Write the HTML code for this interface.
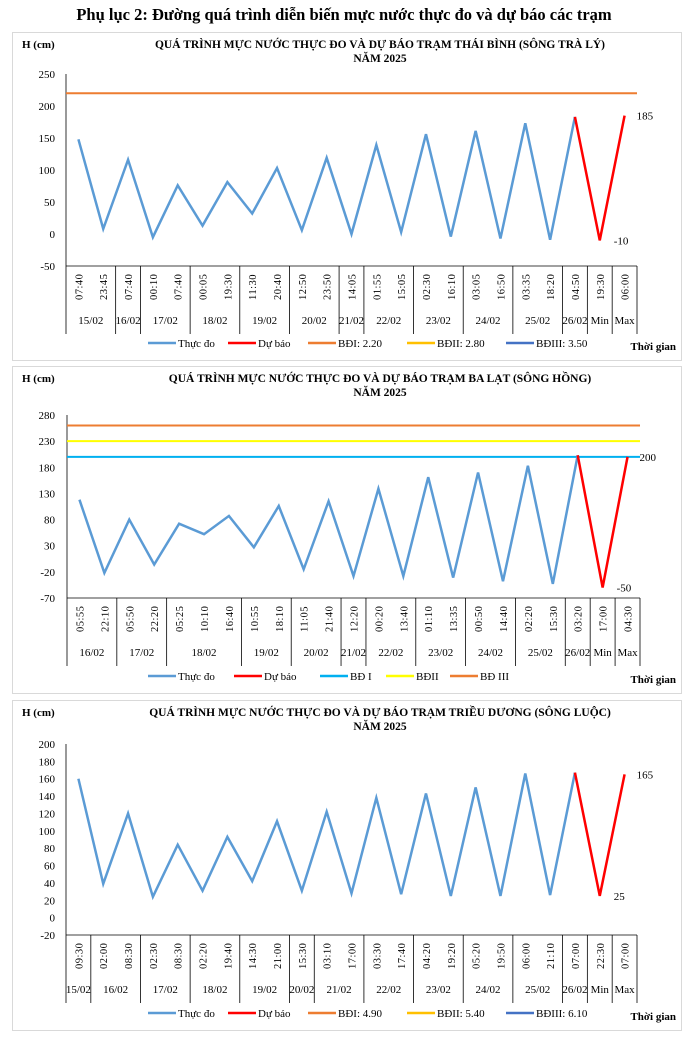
<!DOCTYPE html>
<html><head><meta charset="utf-8"><style>
body{margin:0;background:#fff;width:689px;height:1037px;overflow:hidden}
svg{display:block;font-family:"Liberation Serif",serif}
</style></head><body>
<svg id="s" width="689" height="1037" xmlns="http://www.w3.org/2000/svg">
<text x="344" y="20" text-anchor="middle" font-size="16.5" font-weight="bold">Phụ lục 2: Đường quá trình diễn biến mực nước thực đo và dự báo các trạm</text>
</svg>
<script>
const S=document.getElementById('s');let h='';
function chart(c){
 const{top,bot,py0,py1,vmax,vmin,step,x0,x1,cats,vals,groups,lines,title,legend,lbl}=c;
 h+=`<rect x="12.5" y="${top+.5}" width="669" height="${bot-top}" fill="#fff" stroke="#d9d9d9"/>`;
 h+=`<text x="22" y="${top+16}" font-size="11" font-weight="bold">H (cm)</text>`;
 h+=`<text x="380" y="${top+16}" text-anchor="middle" font-size="11.5" font-weight="bold">${title}</text>`;
 h+=`<text x="380" y="${top+30}" text-anchor="middle" font-size="11.5" font-weight="bold">NĂM 2025</text>`;
 const Y=v=>py0+(vmax-v)/(vmax-vmin)*(py1-py0);
 for(let v=vmin;v<=vmax;v+=step)h+=`<text x="55" y="${Y(v)+4}" text-anchor="end" font-size="11">${v}</text>`;
 h+=`<line x1="${x0}" y1="${py0}" x2="${x0}" y2="${py1}" stroke="#000" stroke-width=".8"/>`;
 h+=`<line x1="${x0}" y1="${py1}" x2="${x1}" y2="${py1}" stroke="#000" stroke-width=".8"/>`;
 const w=(x1-x0)/cats.length,X=i=>x0+(i+.5)*w;
 lines.forEach(l=>h+=`<line x1="${x0}" y1="${Y(l[0])}" x2="${x1}" y2="${Y(l[0])}" stroke="${l[1]}" stroke-width="2"/>`);
 cats.forEach((t,i)=>h+=`<text transform="translate(${X(i)+4},${py1+34}) rotate(-90)" font-size="10.5" letter-spacing="0.5">${t}</text>`);
 let k=0;const gy=py1+58;
 h+=`<line x1="${x0}" y1="${py1}" x2="${x0}" y2="${gy+10}" stroke="#000" stroke-width=".8"/>`;
 groups.forEach(g=>{const a=x0+k*w;k+=g[1];const b=x0+k*w;
  h+=`<line x1="${b}" y1="${py1}" x2="${b}" y2="${gy+10}" stroke="#000" stroke-width=".8"/>`;
  h+=`<text x="${(a+b)/2}" y="${gy}" text-anchor="middle" font-size="11">${g[0]}</text>`;});
 let p=vals.slice(0,21).map((v,i)=>X(i)+','+Y(v)).join(' ');
 h+=`<polyline points="${p}" fill="none" stroke="#5b9bd5" stroke-width="2.5"/>`;
 p=[20,21,22].map(i=>X(i)+','+Y(vals[i])).join(' ');
 h+=`<polyline points="${p}" fill="none" stroke="#ff0000" stroke-width="2.5"/>`;
 h+=`<text x="${X(22)+12}" y="${Y(vals[22])+4}" font-size="11">${lbl[1]}</text>`;
 h+=`<text x="${X(21)+14}" y="${Y(vals[21])+4}" font-size="11">${lbl[0]}</text>`;
 const ly=bot-17;let lx=148;
 legend.forEach(l=>{h+=`<line x1="${lx}" y1="${ly}" x2="${lx+28}" y2="${ly}" stroke="${l[1]}" stroke-width="2.5"/><text x="${lx+30}" y="${ly+4}" font-size="11">${l[0]}</text>`;lx+=l[2];});
 h+=`<text x="676" y="${bot-10}" text-anchor="end" font-size="11" font-weight="bold">Thời gian</text>`;
}
chart({top:32,bot:360,py0:74,py1:266,vmax:250,vmin:-50,step:50,x0:66,x1:637,
 title:"QUÁ TRÌNH MỰC NƯỚC THỰC ĐO VÀ DỰ BÁO TRẠM THÁI BÌNH (SÔNG TRÀ LÝ)",
 cats:"07:40 23:45 07:40 00:10 07:40 00:05 19:30 11:30 20:40 12:50 23:50 14:05 01:55 15:05 02:30 16:10 03:05 16:50 03:35 18:20 04:50 19:30 06:00".split(' '),
 vals:[148,8,116,-5,76,13,81,32,103,6,119,0,139,3,156,-4,161,-7,173,-9,183,-10,185],
 groups:[["15/02",2],["16/02",1],["17/02",2],["18/02",2],["19/02",2],["20/02",2],["21/02",1],["22/02",2],["23/02",2],["24/02",2],["25/02",2],["26/02",1],["Min",1],["Max",1]],
 lines:[[220,"#ed7d31"]],lbl:["-10","185"],
 legend:[["Thực đo","#5b9bd5",80],["Dự báo","#ff0000",80],["BĐI: 2.20","#ed7d31",99],["BĐII: 2.80","#ffc000",99],["BĐIII: 3.50","#4472c4",99]]});
chart({top:366,bot:693,py0:415,py1:598,vmax:280,vmin:-70,step:50,x0:67,x1:640,
 title:"QUÁ TRÌNH MỰC NƯỚC THỰC ĐO VÀ DỰ BÁO TRẠM BA LẠT (SÔNG HỒNG)",
 cats:"05:55 22:10 05:50 22:20 05:25 10:10 16:40 10:55 18:10 11:05 21:40 12:20 00:20 13:40 01:10 13:35 00:50 14:40 02:20 15:30 03:20 17:00 04:30".split(' '),
 vals:[118,-22,80,-6,72,52,87,27,106,-15,115,-28,139,-28,161,-31,170,-38,183,-43,203,-50,200],
 groups:[["16/02",2],["17/02",2],["18/02",3],["19/02",2],["20/02",2],["21/02",1],["22/02",2],["23/02",2],["24/02",2],["25/02",2],["26/02",1],["Min",1],["Max",1]],
 lines:[[200,"#00b0f0"],[230,"#ffff00"],[260,"#ed7d31"]],lbl:["-50","200"],
 legend:[["Thực đo","#5b9bd5",86],["Dự báo","#ff0000",86],["BĐ I","#00b0f0",66],["BĐII","#ffff00",64],["BĐ III","#ed7d31",80]]});
chart({top:700,bot:1030,py0:744,py1:935,vmax:200,vmin:-20,step:20,x0:66,x1:637,
 title:"QUÁ TRÌNH MỰC NƯỚC THỰC ĐO VÀ DỰ BÁO TRẠM TRIỀU DƯƠNG (SÔNG LUỘC)",
 cats:"09:30 02:00 08:30 02:30 08:30 02:20 19:40 14:30 21:00 15:30 03:10 17:00 03:30 17:40 04:20 19:20 05:20 19:50 06:00 21:10 07:00 22:30 07:00".split(' '),
 vals:[160,39,120,24,84,31,93,42,111,31,122,28,138,27,143,25,150,25,166,26,167,25,165],
 groups:[["15/02",1],["16/02",2],["17/02",2],["18/02",2],["19/02",2],["20/02",1],["21/02",2],["22/02",2],["23/02",2],["24/02",2],["25/02",2],["26/02",1],["Min",1],["Max",1]],
 lines:[],lbl:["25","165"],
 legend:[["Thực đo","#5b9bd5",80],["Dự báo","#ff0000",80],["BĐI: 4.90","#ed7d31",99],["BĐII: 5.40","#ffc000",99],["BĐIII: 6.10","#4472c4",99]]});
S.insertAdjacentHTML('beforeend',h);
</script>
</body></html>
